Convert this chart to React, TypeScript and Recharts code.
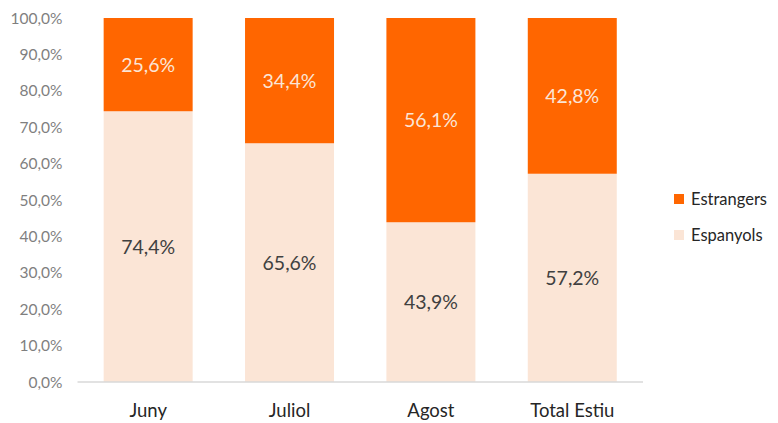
import React from 'react';
import { BarChart, Bar, XAxis, YAxis, LabelList } from 'recharts';

const categories = ['Juny', 'Juliol', 'Agost', 'Total Estiu'];
const espanyols = [74.4, 65.6, 43.9, 57.2];
const estrangers = [25.6, 34.4, 56.1, 42.8];
const yTicks = [0, 10, 20, 30, 40, 50, 60, 70, 80, 90, 100];
const legendItems = ['Estrangers', 'Espanyols'];

const data = categories.map((c, i) => ({ name: c, Espanyols: espanyols[i], Estrangers: estrangers[i] }));

const FONT = 'Lato, "Noto Sans", sans-serif';
const ORANGE = '#FF6600';
const LIGHT = '#FBE5D6';
const legendColors = [ORANGE, LIGHT];

const fmt = (v: number) => v.toFixed(1).replace('.', ',') + '%';

export default function App() {
  return (
    <div style={{ position: 'absolute', left: 0, top: 0, width: 778, height: 423, background: '#fff' }}>
      <BarChart width={778} height={423} data={data} margin={{ top: 18, right: 135, bottom: 0, left: 0 }} barCategoryGap="18.5%">
        <XAxis
          dataKey="name"
          axisLine={{ stroke: '#D9D9D9', strokeWidth: 1.5 }}
          tickLine={false}
          height={41}
          tick={{ fill: '#262626', fontSize: 18.5, fontFamily: FONT }}
          tickMargin={16}
        />
        <YAxis
          width={77.5}
          domain={[0, 100]}
          ticks={yTicks}
          axisLine={false}
          tickLine={false}
          tickMargin={9}
          tickFormatter={(v: number) => fmt(v)}
          tick={{ fill: '#7F7F7F', fontSize: 15.5, fontFamily: FONT }}
        />
        <Bar dataKey="Espanyols" stackId="a" fill={LIGHT} isAnimationActive={false}>
          <LabelList dataKey="Espanyols" position="center" formatter={(v: number) => fmt(v)} fill="#404040" style={{ fontSize: 19.5, fontFamily: FONT }} />
        </Bar>
        <Bar dataKey="Estrangers" stackId="a" fill={ORANGE} isAnimationActive={false}>
          <LabelList dataKey="Estrangers" position="center" formatter={(v: number) => fmt(v)} fill={LIGHT} style={{ fontSize: 19.5, fontFamily: FONT }} />
        </Bar>
      </BarChart>
      <div style={{ position: 'absolute', left: 674, top: 189, fontFamily: FONT, fontSize: 16.5, color: '#262626' }}>
        {legendItems.map((n, i) => (
          <div key={n} style={{ display: 'flex', alignItems: 'center', height: 20, marginBottom: i === 0 ? 16 : 0 }}>
            <span style={{ display: 'inline-block', width: 10, height: 10, background: legendColors[i], marginRight: 7 }} />
            <span>{n}</span>
          </div>
        ))}
      </div>
    </div>
  );
}
